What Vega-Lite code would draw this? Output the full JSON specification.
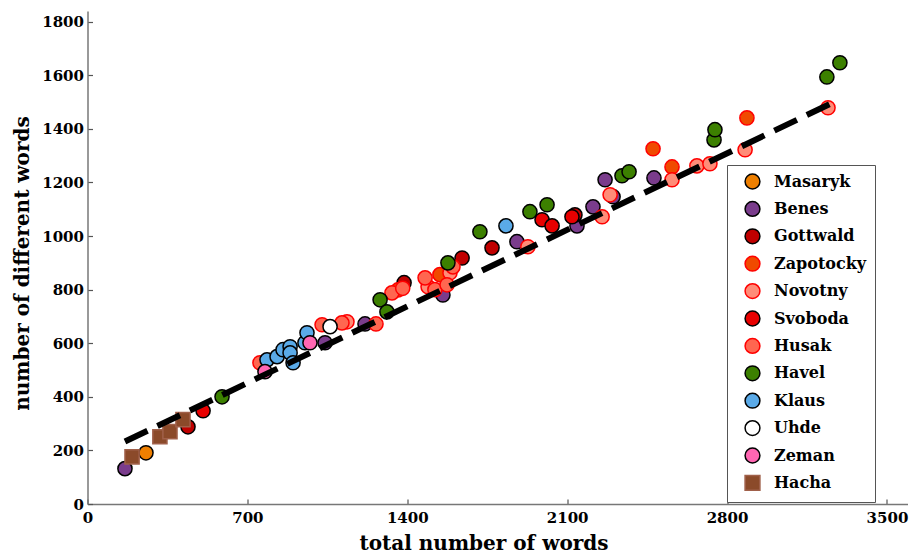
{
  "$schema": "https://vega.github.io/schema/vega-lite/v6.json",
  "width": 820,
  "height": 493,
  "autosize": {"type": "none"},
  "padding": {"left": 87.5, "top": 11, "right": 4, "bottom": 49},
  "config": {
    "view": {"stroke": null},
    "font": "DejaVu Serif",
    "legend": {
      "orient": "none",
      "legendX": 639.5,
      "legendY": 154,
      "title": null,
      "strokeColor": "#555",
      "fillColor": "white",
      "padding": 8,
      "symbolSize": 220,
      "symbolStrokeWidth": 1.5,
      "symbolOffset": 9,
      "labelFont": "DejaVu Serif",
      "labelFontWeight": "bold",
      "labelFontSize": 16,
      "labelColor": "black",
      "labelOffset": 13,
      "rowPadding": 6.4
    },
    "axis": {
      "grid": false,
      "tickSize": -5,
      "domainColor": "#777",
      "domainWidth": 1.5,
      "tickColor": "#555",
      "tickWidth": 1.2,
      "labelFont": "DejaVu Serif",
      "labelFontWeight": "bold",
      "labelFontSize": 15,
      "labelColor": "black",
      "labelFlush": false,
      "labelOverlap": false,
      "format": "d",
      "titleFont": "DejaVu Serif",
      "titleFontWeight": "bold",
      "titleFontSize": 20,
      "titleColor": "black"
    }
  },
  "layer": [
    {
      "data": {
        "values": [
          {"p": "Masaryk", "x": 256, "y": 191},
          {"p": "Benes", "x": 164, "y": 132},
          {"p": "Benes", "x": 1040, "y": 602},
          {"p": "Benes", "x": 1215, "y": 672},
          {"p": "Benes", "x": 1556, "y": 780},
          {"p": "Benes", "x": 1880, "y": 979},
          {"p": "Benes", "x": 2143, "y": 1038},
          {"p": "Benes", "x": 2213, "y": 1109},
          {"p": "Benes", "x": 2266, "y": 1210},
          {"p": "Benes", "x": 2301, "y": 1147},
          {"p": "Benes", "x": 2480, "y": 1217},
          {"p": "Gottwald", "x": 440, "y": 288},
          {"p": "Gottwald", "x": 1386, "y": 826},
          {"p": "Gottwald", "x": 1640, "y": 918},
          {"p": "Gottwald", "x": 1771, "y": 956},
          {"p": "Gottwald", "x": 2134, "y": 1079},
          {"p": "Zapotocky", "x": 1359, "y": 799},
          {"p": "Zapotocky", "x": 1543, "y": 856},
          {"p": "Zapotocky", "x": 2476, "y": 1326},
          {"p": "Zapotocky", "x": 2559, "y": 1258},
          {"p": "Zapotocky", "x": 2887, "y": 1441},
          {"p": "Novotny", "x": 1136, "y": 680},
          {"p": "Novotny", "x": 1491, "y": 811},
          {"p": "Novotny", "x": 1587, "y": 863},
          {"p": "Novotny", "x": 1928, "y": 960},
          {"p": "Novotny", "x": 2253, "y": 1072},
          {"p": "Novotny", "x": 2288, "y": 1154},
          {"p": "Novotny", "x": 2559, "y": 1210},
          {"p": "Novotny", "x": 2668, "y": 1262},
          {"p": "Novotny", "x": 2725, "y": 1270},
          {"p": "Novotny", "x": 2879, "y": 1322},
          {"p": "Novotny", "x": 3242, "y": 1479},
          {"p": "Svoboda", "x": 506, "y": 348},
          {"p": "Svoboda", "x": 1990, "y": 1061},
          {"p": "Svoboda", "x": 2034, "y": 1038},
          {"p": "Svoboda", "x": 2121, "y": 1072},
          {"p": "Husak", "x": 755, "y": 527},
          {"p": "Husak", "x": 1027, "y": 669},
          {"p": "Husak", "x": 1114, "y": 676},
          {"p": "Husak", "x": 1263, "y": 672},
          {"p": "Husak", "x": 1333, "y": 788},
          {"p": "Husak", "x": 1380, "y": 805},
          {"p": "Husak", "x": 1478, "y": 844},
          {"p": "Husak", "x": 1521, "y": 800},
          {"p": "Husak", "x": 1574, "y": 818},
          {"p": "Husak", "x": 1600, "y": 885},
          {"p": "Havel", "x": 589, "y": 400},
          {"p": "Havel", "x": 1281, "y": 762},
          {"p": "Havel", "x": 1311, "y": 717},
          {"p": "Havel", "x": 1578, "y": 900},
          {"p": "Havel", "x": 1718, "y": 1016},
          {"p": "Havel", "x": 1937, "y": 1091},
          {"p": "Havel", "x": 2012, "y": 1117},
          {"p": "Havel", "x": 2340, "y": 1225},
          {"p": "Havel", "x": 2371, "y": 1240},
          {"p": "Havel", "x": 2743, "y": 1359},
          {"p": "Havel", "x": 2747, "y": 1397},
          {"p": "Havel", "x": 3237, "y": 1594},
          {"p": "Havel", "x": 3294, "y": 1647},
          {"p": "Klaus", "x": 786, "y": 538},
          {"p": "Klaus", "x": 830, "y": 550},
          {"p": "Klaus", "x": 856, "y": 576},
          {"p": "Klaus", "x": 887, "y": 587},
          {"p": "Klaus", "x": 887, "y": 564},
          {"p": "Klaus", "x": 900, "y": 527},
          {"p": "Klaus", "x": 952, "y": 602},
          {"p": "Klaus", "x": 961, "y": 639},
          {"p": "Klaus", "x": 1832, "y": 1038},
          {"p": "Uhde", "x": 1062, "y": 662},
          {"p": "Zeman", "x": 777, "y": 494},
          {"p": "Zeman", "x": 974, "y": 602},
          {"p": "Hacha", "x": 195, "y": 176},
          {"p": "Hacha", "x": 317, "y": 251},
          {"p": "Hacha", "x": 361, "y": 270},
          {"p": "Hacha", "x": 418, "y": 315}
        ]
      },
      "mark": {"type": "point", "filled": true, "opacity": 1, "size": 200, "strokeWidth": 1.5},
      "encoding": {
        "x": {
          "field": "x",
          "type": "quantitative",
          "scale": {"domain": [0, 3590], "nice": false, "zero": false},
          "axis": {
            "values": [0, 700, 1400, 2100, 2800, 3500],
            "labelPadding": 11,
            "title": "total number of words",
            "titleX": 396,
            "titleY": 39,
            "titleBaseline": "middle"
          }
        },
        "y": {
          "field": "y",
          "type": "quantitative",
          "scale": {"domain": [0, 1840], "nice": false, "zero": false},
          "axis": {
            "values": [0, 200, 400, 600, 800, 1000, 1200, 1400, 1600, 1800],
            "labelPadding": 9,
            "title": "number of different words",
            "titleX": -65,
            "titleY": 252,
            "titleAngle": -90,
            "titleAlign": "center",
            "titleBaseline": "middle"
          }
        },
        "fill": {
          "field": "p",
          "type": "nominal",
          "scale": {
            "domain": ["Masaryk", "Benes", "Gottwald", "Zapotocky", "Novotny", "Svoboda", "Husak", "Havel", "Klaus", "Uhde", "Zeman", "Hacha"],
            "range": ["#EE7F00", "#7A3C8C", "#C00000", "#F04A00", "#FF8C78", "#E80000", "#FF6650", "#3C8000", "#5AAAE8", "#FFFFFF", "#FF66B2", "#8B4A2A"]
          }
        },
        "stroke": {
          "field": "p",
          "type": "nominal",
          "scale": {
            "domain": ["Masaryk", "Benes", "Gottwald", "Zapotocky", "Novotny", "Svoboda", "Husak", "Havel", "Klaus", "Uhde", "Zeman", "Hacha"],
            "range": ["#000000", "#000000", "#000000", "#FF0000", "#FF0000", "#000000", "#FF0000", "#000000", "#000000", "#000000", "#000000", "#A0604A"]
          }
        },
        "shape": {
          "field": "p",
          "type": "nominal",
          "scale": {
            "domain": ["Masaryk", "Benes", "Gottwald", "Zapotocky", "Novotny", "Svoboda", "Husak", "Havel", "Klaus", "Uhde", "Zeman", "Hacha"],
            "range": ["circle", "circle", "circle", "circle", "circle", "circle", "circle", "circle", "circle", "circle", "circle", "square"]
          }
        }
      }
    },
    {
      "data": {"values": [{"x": 164, "y": 233}, {"x": 3290, "y": 1509}]},
      "mark": {"type": "line", "color": "black", "strokeWidth": 6, "strokeDash": [25, 11]},
      "encoding": {
        "x": {"field": "x", "type": "quantitative"},
        "y": {"field": "y", "type": "quantitative"}
      }
    }
  ]
}
